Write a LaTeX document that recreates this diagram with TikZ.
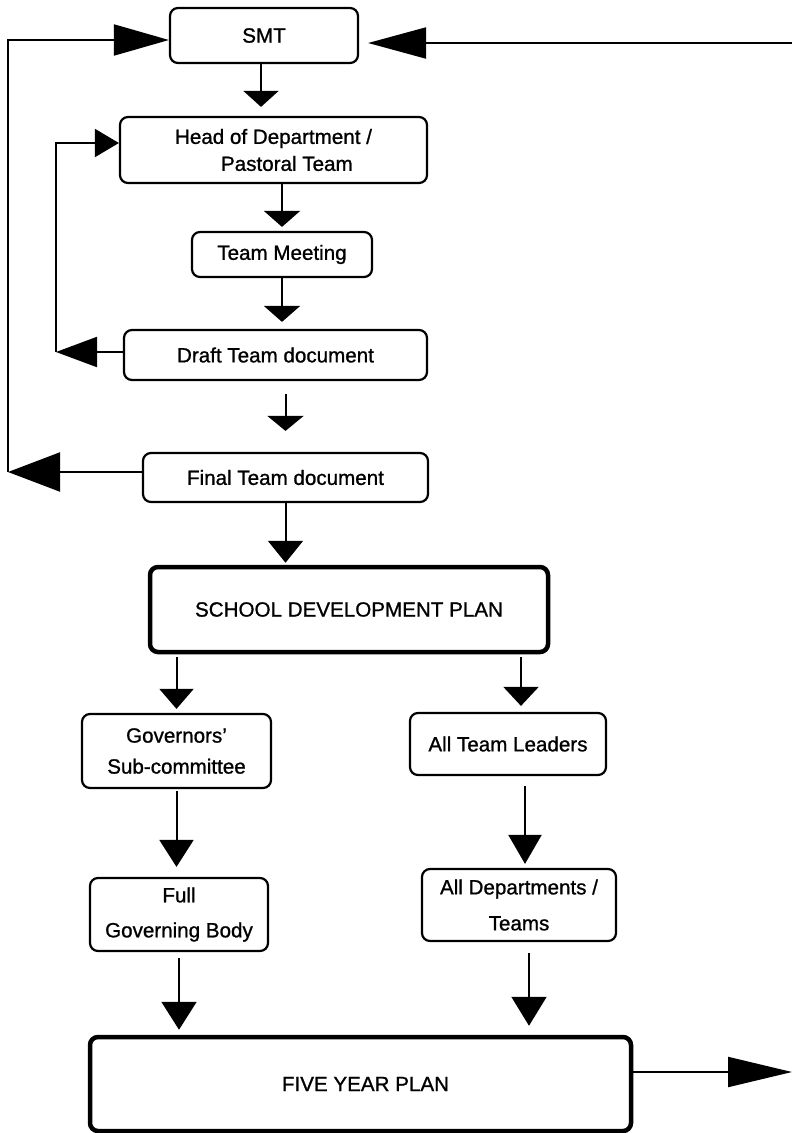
\documentclass[tikz,border=0pt]{standalone}
\usepackage{fontspec}
\setmainfont{Liberation Sans}
\newfontfamily\lbl{Liberation Sans}[FakeBold=1]
\usetikzlibrary{arrows.meta,calc}
\begin{document}
\begin{tikzpicture}[x=1pt,y=-1pt,
  box/.style={draw, line width=2.2pt, rounded corners=8pt, inner sep=0pt,
    align=center, font=\lbl\fontsize{20.6}{30}\selectfont},
  bigbox/.style={box, line width=4.5pt},
  link/.style={line width=2pt, line join=miter},
  headed/.style 2 args={link, -{Triangle[length=#1pt,width=#2pt]}},
]
\useasboundingbox (0,0) rectangle (792,1133);

% boxes of the planning cycle
\node[box, minimum width=188pt, minimum height=55pt] (smt) at (264,35.5) {SMT};
\node[box, minimum width=307pt, minimum height=66pt, align=left,
  font=\lbl\fontsize{20.6}{27}\selectfont] (hod) at (273.5,150)
  {Head of Department /\\\hspace*{46pt}Pastoral Team};
\node[box, minimum width=180pt, minimum height=45pt] (tm) at (282,254.5) {Team Meeting};
\node[box, minimum width=303pt, minimum height=50pt] (draft) at (275.5,355) {Draft Team document};
\node[box, minimum width=285pt, minimum height=49pt] (final) at (285.5,477.5) {Final Team document};
\node[bigbox, minimum width=398pt, minimum height=85pt] (sdp) at (349,609.5) {SCHOOL DEVELOPMENT PLAN};
\node[box, minimum width=189pt, minimum height=74pt,
  font=\lbl\fontsize{20.6}{31}\selectfont] (gov) at (176.5,751) {Governors’\\Sub-committee};
\node[box, minimum width=196pt, minimum height=62pt] (atl) at (508,744) {All Team Leaders};
\node[box, minimum width=178pt, minimum height=73pt,
  font=\lbl\fontsize{20.6}{35}\selectfont] (full) at (179,914.5) {Full\\Governing Body};
\node[box, minimum width=194pt, minimum height=72pt,
  font=\lbl\fontsize{20.6}{36}\selectfont] (alldep) at (519,905) {All Departments /\\Teams};
\node[bigbox, minimum width=541pt, minimum height=94pt] (fyp) at (360.5,1084) {\hspace*{10pt}FIVE YEAR PLAN};

% free ends and corners of the feedback loops
\coordinate (rin) at (792,43);
\coordinate (rout) at (792,1072);
\coordinate (outer) at (8,472);
\coordinate (outerTop) at (8,40);
\coordinate (innerBot) at (56,352);
\coordinate (innerTop) at (56,143);

% main downward flow
\draw[headed={16}{35}, shorten >=9pt] ([xshift=-3pt]smt.south) -- ([xshift=-3pt]smt.south |- hod.north);
\draw[headed={16}{36}, shorten >=4pt] (tm.north |- hod.south) -- (tm.north);
\draw[headed={16}{36}, shorten >=7pt] (tm.south) -- (tm.south |- draft.north);
\draw[headed={15}{36}, shorten <=13pt, shorten >=21pt] (final.north |- draft.south) -- (final.north);
\draw[headed={22}{35}, shorten >=2pt] (final.south) -- (final.south |- sdp.north);
\draw[headed={20}{34}, shorten <=3pt, shorten >=4pt] (gov.north |- sdp.south) -- (gov.north);
\draw[headed={19}{35}, shorten <=3pt, shorten >=6pt] ([xshift=13pt]atl.north |- sdp.south) -- ([xshift=13pt]atl.north);
\draw[headed={27}{34}, shorten <=2pt, shorten >=10pt] (gov.south) -- (gov.south |- full.north);
\draw[headed={29}{33}, shorten <=10pt, shorten >=4pt] ([xshift=6pt]alldep.north |- atl.south) -- ([xshift=6pt]alldep.north);
\draw[headed={28}{35}, shorten <=6pt, shorten >=5pt] (full.south) -- (full.south |- fyp.north);
\draw[headed={29}{35}, shorten <=11pt, shorten >=9pt] ([xshift=10pt]alldep.south) -- ([xshift=10pt]alldep.south |- fyp.north);

% incoming and outgoing arrows on the right
\draw[headed={58}{31}, shorten >=9pt] (rin) -- (smt.east |- rin);
\draw[headed={64}{30}] (fyp.east |- rout) -- (rout);

% outer loop: final document back to SMT
\draw[headed={52}{39}] (final.west |- outer) -- (outer);
\draw[headed={55}{31}] (outer) -- (outerTop) -- (smt.west |- outerTop);

% inner loop: draft back to head of department
\draw[headed={41}{30}] (draft.west |- innerBot) -- (innerBot);
\draw[headed={24}{28}] (innerBot) -- (innerTop) -- (hod.west |- innerTop);
\end{tikzpicture}
\end{document}
